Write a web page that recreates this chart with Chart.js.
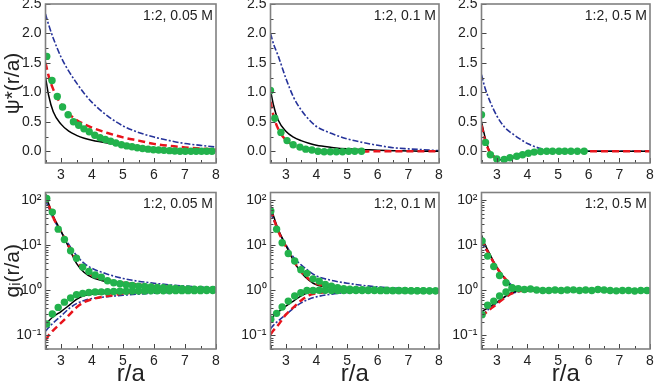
<!DOCTYPE html>
<html>
<head>
<meta charset="utf-8">
<script src="https://cdn.jsdelivr.net/npm/chart.js@4.4.1/dist/chart.umd.min.js"></script>
<style>
  body { margin: 0; background: #fff; }
  #wrap { position: relative; width: 654px; height: 386px; overflow: hidden; }
  #wrap canvas { position: absolute; }
</style>
</head>
<body>
<div id="wrap">
  <canvas id="p1" width="222" height="180" style="left:0;top:0"></canvas>
  <canvas id="p2" width="223" height="180" style="left:222px;top:0"></canvas>
  <canvas id="p3" width="209" height="180" style="left:445px;top:0"></canvas>
  <canvas id="p4" width="222" height="206" style="left:0;top:180px"></canvas>
  <canvas id="p5" width="223" height="206" style="left:222px;top:180px"></canvas>
  <canvas id="p6" width="209" height="206" style="left:445px;top:180px"></canvas>
</div>
<script>
// x grid used by all the curves
const rLine = [2.5, 2.6, 2.75, 3, 3.25, 3.5, 3.75, 4, 4.5, 5, 5.5, 6, 6.5, 7, 7.5, 8];
const rTicks = [3, 4, 5, 6, 7, 8];
const psiTicks = [0, 0.5, 1, 1.5, 2, 2.5];
const gTicks = [0.1, 1, 10, 100];
const gTickLabels = ['10⁻¹', '10⁰', '10¹', '10²'];
const panelLabels = ['1:2, 0.05 M', '1:2, 0.1 M', '1:2, 0.5 M'];

// psi*(r/a), 0.05 M
const psi005Black = [1.26, 0.95, 0.67, 0.46, 0.34, 0.27, 0.22, 0.185, 0.14, 0.11, 0.075, 0.05, 0.03, 0.02, 0.01, 0.005];
const psi005Red   = [1.5, 1.28, 1.05, 0.8, 0.64, 0.53, 0.46, 0.4, 0.31, 0.235, 0.18, 0.125, 0.09, 0.065, 0.045, 0.03];
const psi005Blue  = [2.33, 2.15, 1.92, 1.6, 1.36, 1.16, 0.98, 0.83, 0.6, 0.43, 0.32, 0.24, 0.18, 0.13, 0.1, 0.07];
const psi005DotX  = [2.54, 2.71, 2.88, 3.05, 3.23, 3.4, 3.57, 3.74, 3.91, 4.09, 4.26, 4.43, 4.6, 4.77, 4.95, 5.12,
                     5.29, 5.46, 5.63, 5.81, 5.98, 6.15, 6.32, 6.5, 6.67, 6.84, 7.01, 7.19, 7.36, 7.53, 7.7, 7.87];
const psi005DotY  = [1.61, 1.2, 0.93, 0.75, 0.62, 0.5, 0.44, 0.38, 0.33, 0.27, 0.23, 0.2, 0.17, 0.14, 0.11, 0.09,
                     0.075, 0.06, 0.045, 0.035, 0.025, 0.02, 0.015, 0.01, 0.005, 0, 0, 0, 0, 0, 0, 0];

// psi*(r/a), 0.1 M
const psi01Black = [1.04, 0.78, 0.53, 0.34, 0.24, 0.18, 0.135, 0.1, 0.065, 0.04, 0.03, 0.015, 0.01, 0.005, 0, 0];
const psi01Red   = [0.84, 0.6, 0.38, 0.19, 0.1, 0.05, 0.02, 0, -0.01, -0.01, -0.005, 0, 0, 0, 0, 0];
const psi01Blue  = [2.0, 1.82, 1.62, 1.24, 0.92, 0.7, 0.54, 0.42, 0.3, 0.21, 0.15, 0.1, 0.06, 0.04, 0.025, 0.01];
const psi01DotX  = [2.5, 2.64, 2.84, 3.04, 3.24, 3.46, 3.65, 3.85, 4.05, 4.25, 4.45, 4.65, 4.85, 5.05, 5.25, 5.47];
const psi01DotY  = [1.03, 0.56, 0.32, 0.18, 0.11, 0.07, 0.035, 0.02, 0, -0.01, -0.01, -0.01, -0.01, 0, 0, 0];

// psi*(r/a), 0.5 M
const psi05Black = [0.5, 0.27, 0.02, -0.12, -0.15, -0.12, -0.075, -0.04, -0.01, 0, 0, 0, 0, 0, 0, 0];
const psi05Red   = [0.44, 0.22, 0, -0.12, -0.14, -0.115, -0.07, -0.04, -0.01, 0, 0, 0, 0, 0, 0, 0];
const psi05Blue  = [1.3, 1.1, 0.88, 0.6, 0.41, 0.3, 0.21, 0.13, 0.035, 0, 0, 0, 0, 0, 0, 0];
const psi05DotX  = [2.5, 2.63, 2.79, 3.0, 3.24, 3.43, 3.65, 3.84, 4.03, 4.22, 4.43, 4.63, 4.82, 5.03, 5.22, 5.42, 5.63, 5.85];
const psi05DotY  = [0.62, 0.15, -0.06, -0.13, -0.14, -0.11, -0.085, -0.06, -0.035, -0.015, -0.005, 0, 0, 0, 0, 0, 0, 0];

// g_i(r/a), 0.05 M (upper = counterion, lower = coion)
const g005BlackUp = [140, 85, 45, 21, 9, 4.0, 2.5, 1.95, 1.55, 1.4, 1.3, 1.22, 1.15, 1.1, 1.07, 1.05];
const g005RedUp   = [130, 80, 42, 20, 9.5, 4.6, 2.9, 2.2, 1.7, 1.48, 1.35, 1.26, 1.2, 1.14, 1.1, 1.07];
const g005BlueUp  = [100, 70, 40, 20, 10.5, 6.0, 4.0, 3.1, 2.3, 1.85, 1.6, 1.45, 1.33, 1.25, 1.19, 1.15];
const g005BlackLo = [0.18, 0.21, 0.26, 0.34, 0.46, 0.63, 0.77, 0.82, 0.86, 0.88, 0.9, 0.92, 0.94, 0.96, 0.98, 0.99];
const g005RedLo   = [0.078, 0.1, 0.13, 0.19, 0.28, 0.42, 0.55, 0.64, 0.75, 0.85, 0.91, 0.95, 0.97, 0.98, 0.99, 1.0];
const g005BlueLo  = [0.125, 0.15, 0.19, 0.27, 0.39, 0.51, 0.6, 0.66, 0.73, 0.78, 0.83, 0.87, 0.9, 0.93, 0.95, 0.96];
const g005DotX    = [2.54, 2.72, 2.91, 3.11, 3.31, 3.5, 3.7, 3.9, 4.1, 4.3, 4.5, 4.7, 4.9, 5.1,
                     5.3, 5.5, 5.7, 5.9, 6.1, 6.3, 6.5, 6.7, 6.9, 7.1, 7.3, 7.5, 7.7, 7.9];
const g005DotUp   = [110, 55, 23, 13.5, 7.6, 5.2, 3.3, 2.65, 2.2, 1.98, 1.64, 1.48, 1.41, 1.34,
                     1.29, 1.25, 1.22, 1.2, 1.17, 1.15, 1.13, 1.11, 1.09, 1.08, 1.07, 1.06, 1.05, 1.05];
const g005DotLo   = [0.18, 0.3, 0.42, 0.55, 0.68, 0.8, 0.86, 0.9, 0.92, 0.93, 0.94, 0.95, 0.96, 0.96,
                     0.97, 0.97, 0.97, 0.98, 0.98, 0.98, 0.98, 0.99, 0.99, 0.99, 0.99, 0.99, 1.0, 1.0];

// g_i(r/a), 0.1 M
const g01BlackUp = [75, 45, 23, 10, 4.6, 2.5, 1.7, 1.33, 1.15, 1.08, 1.05, 1.03, 1.02, 1.01, 1.0, 1.0];
const g01RedUp   = [62, 40, 21, 9.5, 4.6, 2.6, 1.8, 1.42, 1.2, 1.12, 1.08, 1.05, 1.03, 1.02, 1.01, 1.0];
const g01BlueUp  = [53, 37, 21, 10.5, 5.5, 3.7, 2.7, 2.1, 1.67, 1.45, 1.3, 1.2, 1.13, 1.08, 1.05, 1.04];
const g01BlackLo = [0.22, 0.27, 0.33, 0.45, 0.58, 0.76, 0.9, 0.94, 0.97, 0.98, 0.99, 1.0, 1.0, 1.0, 1.0, 1.0];
const g01RedLo   = [0.105, 0.13, 0.17, 0.29, 0.42, 0.6, 0.78, 0.86, 0.93, 0.96, 0.98, 0.99, 1.0, 1.0, 1.0, 1.0];
const g01BlueLo  = [0.14, 0.17, 0.21, 0.29, 0.4, 0.53, 0.64, 0.72, 0.83, 0.9, 0.94, 0.96, 0.97, 0.98, 0.99, 0.99];
const g01DotX    = [2.51, 2.7, 2.88, 3.08, 3.29, 3.49, 3.69, 3.89, 4.09, 4.29, 4.49, 4.69, 4.89, 5.09,
                    5.29, 5.49, 5.69, 5.89, 6.09, 6.29, 6.49, 6.69, 6.89, 7.09, 7.29, 7.49, 7.69, 7.89];
const g01DotUp   = [58, 23, 11.5, 6.6, 4.5, 2.9, 2.4, 1.81, 1.61, 1.36, 1.25, 1.15, 1.1, 1.07,
                    1.05, 1.04, 1.03, 1.02, 1.01, 1.01, 1.0, 1.0, 1.0, 0.99, 0.99, 0.99, 0.98, 0.98];
const g01DotLo   = [0.23, 0.31, 0.43, 0.58, 0.75, 0.89, 1.0, 1.0, 1.01, 1.01, 1.0, 1.0, 1.0, 1.0,
                    1.0, 1.0, 1.0, 1.0, 0.99, 0.99, 0.99, 0.99, 0.99, 0.98, 0.98, 0.98, 0.98, 0.98];

// g_i(r/a), 0.5 M
const g05BlackUp = [17, 11, 6.9, 3.3, 1.85, 1.15, 0.98, 0.98, 0.99, 1.0, 1.0, 1.0, 1.0, 1.0, 1.0, 1.0];
const g05RedUp   = [14, 9.8, 6.3, 3.2, 1.9, 1.25, 1.03, 0.98, 0.99, 1.0, 1.0, 1.0, 1.0, 1.0, 1.0, 1.0];
const g05BlueUp  = [12, 9, 6, 3.1, 1.9, 1.3, 1.12, 1.05, 1.01, 1.0, 1.0, 1.0, 1.0, 1.0, 1.0, 1.0];
const g05BlackLo = [0.33, 0.37, 0.43, 0.55, 0.72, 0.9, 0.98, 1.0, 1.0, 1.0, 1.0, 1.0, 1.0, 1.0, 1.0, 1.0];
const g05RedLo   = [0.26, 0.3, 0.37, 0.5, 0.68, 0.86, 0.97, 0.99, 1.0, 1.0, 1.0, 1.0, 1.0, 1.0, 1.0, 1.0];
const g05BlueLo  = [0.28, 0.32, 0.39, 0.52, 0.7, 0.86, 0.95, 0.98, 1.0, 1.0, 1.0, 1.0, 1.0, 1.0, 1.0, 1.0];
const g05DotX    = [2.52, 2.7, 2.9, 3.09, 3.3, 3.5, 3.7, 3.9, 4.1, 4.3, 4.5, 4.7, 4.9, 5.1,
                    5.3, 5.5, 5.7, 5.9, 6.1, 6.3, 6.5, 6.7, 6.9, 7.1, 7.3, 7.5, 7.7, 7.9];
const g05DotUp   = [12.5, 5.8, 3.4, 2.15, 1.48, 1.15, 1.1, 1.05, 1.08, 1.02, 1.0, 1.0, 1.02, 1.0,
                    1.02, 1.03, 1.0, 1.02, 1.0, 1.05, 1.02, 1.0, 0.98, 1.0, 1.0, 0.97, 1.0, 1.0];
const g05DotLoX  = [2.52, 2.7, 2.9, 3.09, 3.3, 3.5];
const g05DotLo   = [0.29, 0.47, 0.58, 0.75, 0.92, 1.12];

const FONT = "'Liberation Sans', Arial, sans-serif";
const TXT = '#222';

function pts(xs, ys) { return xs.map((x, i) => ({ x: x, y: ys[i] })); }

function dots(xs, ys) {
    return { data: pts(xs, ys), showLine: false, pointRadius: 3.7, pointBackgroundColor: '#22b24c',
             pointBorderWidth: 0, borderWidth: 0 };
}
function black(ys) { return { data: pts(rLine, ys), borderColor: '#000', borderWidth: 1.5, pointRadius: 0 }; }
function red(ys) { return { data: pts(rLine, ys), borderColor: '#e8141c', borderWidth: 2.5, borderDash: [7, 4], pointRadius: 0 }; }
function blue(ys) { return { data: pts(rLine, ys), borderColor: '#26339a', borderWidth: 1.6, borderDash: [6, 2, 2, 2], pointRadius: 0 }; }

// frame, inward ticks and the panel label
const framePlugin = {
    id: 'frame',
    afterDraw(chart, args, opts) {
        const { ctx, chartArea: a } = chart;
        const x = chart.scales.x, y = chart.scales.y;
        ctx.save();
        ctx.strokeStyle = '#444';
        ctx.lineWidth = 1;
        ctx.beginPath();
        for (let v = 2.5; v <= 8.001; v += 0.5) {
            const px = Math.round(x.getPixelForValue(v)) + 0.5;
            const len = Number.isInteger(v) ? 5 : 3;
            ctx.moveTo(px, a.bottom);
            ctx.lineTo(px, a.bottom - len);
        }
        if (y.type === 'logarithmic') {
            for (let k = -2; k <= 2; k++) {
                for (let m = 1; m <= 9; m++) {
                    const v = m * Math.pow(10, k);
                    if (v < y.min || v > y.max) continue;
                    const py = Math.round(y.getPixelForValue(v)) + 0.5;
                    ctx.moveTo(a.left, py);
                    ctx.lineTo(a.left + (m === 1 ? 5 : 3), py);
                }
            }
        } else {
            for (let v = -0.25; v <= 2.5001; v += 0.25) {
                if (v < y.min) continue;
                const py = Math.round(y.getPixelForValue(v)) + 0.5;
                ctx.moveTo(a.left, py);
                ctx.lineTo(a.left + (Math.abs(v * 2 - Math.round(v * 2)) < 1e-6 ? 5 : 3), py);
            }
        }
        ctx.stroke();
        ctx.strokeStyle = '#808080';
        ctx.lineWidth = 1.6;
        ctx.strokeRect(a.left, a.top, a.right - a.left, a.bottom - a.top);
        ctx.fillStyle = TXT;
        ctx.font = '14px ' + FONT;
        ctx.textAlign = 'right';
        ctx.textBaseline = 'middle';
        ctx.fillText(opts.label, a.right - 3, a.top + 12);
        ctx.restore();
    }
};

function makePanel(id, box, area, kind, label, datasets, showYTitle) {
    const [bx, by, bw, bh] = box;
    const [al, at, ar, ab] = area;
    const isLog = kind === 'g';
    const bottomRow = isLog;
    new Chart(document.getElementById(id), {
        type: 'line',
        data: { datasets: datasets },
        plugins: [framePlugin],
        options: {
            responsive: false,
            animation: false,
            devicePixelRatio: 1,
            layout: { padding: { left: 0, top: at - by, right: bx + bw - ar, bottom: 0 } },
            plugins: { legend: { display: false }, tooltip: { enabled: false }, frame: { label: label } },
            elements: { line: { cubicInterpolationMode: 'monotone', fill: false } },
            scales: {
                x: {
                    type: 'linear', min: 2.5, max: 8,
                    grid: { display: false, drawTicks: false },
                    border: { display: false },
                    afterBuildTicks: s => { s.ticks = rTicks.map(v => ({ value: v })); },
                    afterFit: s => { s.height = by + bh - ab; s.paddingLeft = 0; s.paddingRight = 0; },
                    ticks: { color: TXT, font: { family: FONT, size: 14 }, padding: 4, maxRotation: 0,
                             callback: v => String(v) },
                    title: { display: bottomRow, text: 'r/a', color: TXT,
                             font: { family: FONT, size: 24, lineHeight: 1 }, padding: { top: 0, bottom: 0 } }
                },
                y: isLog ? {
                    type: 'logarithmic', min: 0.05, max: 150,
                    grid: { display: false, drawTicks: false },
                    border: { display: false },
                    afterBuildTicks: s => { s.ticks = gTicks.map(v => ({ value: v })); },
                    afterFit: s => { s.width = al - bx; s.paddingTop = 0; s.paddingBottom = 0; },
                    ticks: { color: TXT, font: { family: FONT, size: 14 }, padding: 4,
                             callback: v => gTickLabels[gTicks.indexOf(v)] },
                    title: { display: showYTitle, text: 'gᵢ(r/a)', color: TXT,
                             font: { family: FONT, size: 21 }, padding: { top: 1, bottom: 0 } }
                } : {
                    type: 'linear', min: -0.2, max: 2.5,
                    grid: { display: false, drawTicks: false },
                    border: { display: false },
                    afterBuildTicks: s => { s.ticks = psiTicks.map(v => ({ value: v })); },
                    afterFit: s => { s.width = al - bx; s.paddingTop = 0; s.paddingBottom = 0; },
                    ticks: { color: TXT, font: { family: FONT, size: 14 }, padding: 4,
                             callback: v => v.toFixed(1) },
                    title: { display: showYTitle, text: 'ψ*(r/a)', color: TXT,
                             font: { family: FONT, size: 21 }, padding: { top: 1, bottom: 0 } }
                }
            }
        }
    });
}

makePanel('p1', [0, 0, 222, 180], [45.5, 4, 216, 163], 'psi', panelLabels[0],
    [dots(psi005DotX, psi005DotY), red(psi005Red), black(psi005Black), blue(psi005Blue)], true);
makePanel('p2', [222, 0, 223, 180], [270.5, 4, 439, 163], 'psi', panelLabels[1],
    [dots(psi01DotX, psi01DotY), red(psi01Red), black(psi01Black), blue(psi01Blue)], false);
makePanel('p3', [445, 0, 209, 180], [481.5, 4, 650, 163], 'psi', panelLabels[2],
    [dots(psi05DotX, psi05DotY), red(psi05Red), black(psi05Black), blue(psi05Blue)], false);

makePanel('p4', [0, 180, 222, 206], [45.5, 192.5, 216, 349], 'g', panelLabels[0],
    [dots(g005DotX, g005DotUp), dots(g005DotX, g005DotLo),
     red(g005RedUp), red(g005RedLo), black(g005BlackUp), black(g005BlackLo),
     blue(g005BlueUp), blue(g005BlueLo)], true);
makePanel('p5', [222, 180, 223, 206], [270.5, 192.5, 439, 349], 'g', panelLabels[1],
    [dots(g01DotX, g01DotUp), dots(g01DotX, g01DotLo),
     red(g01RedUp), red(g01RedLo), black(g01BlackUp), black(g01BlackLo),
     blue(g01BlueUp), blue(g01BlueLo)], false);
makePanel('p6', [445, 180, 209, 206], [481.5, 192.5, 650, 349], 'g', panelLabels[2],
    [dots(g05DotX, g05DotUp), dots(g05DotLoX, g05DotLo),
     red(g05RedUp), red(g05RedLo), black(g05BlackUp), black(g05BlackLo),
     blue(g05BlueUp), blue(g05BlueLo)], false);
</script>
</body>
</html>
